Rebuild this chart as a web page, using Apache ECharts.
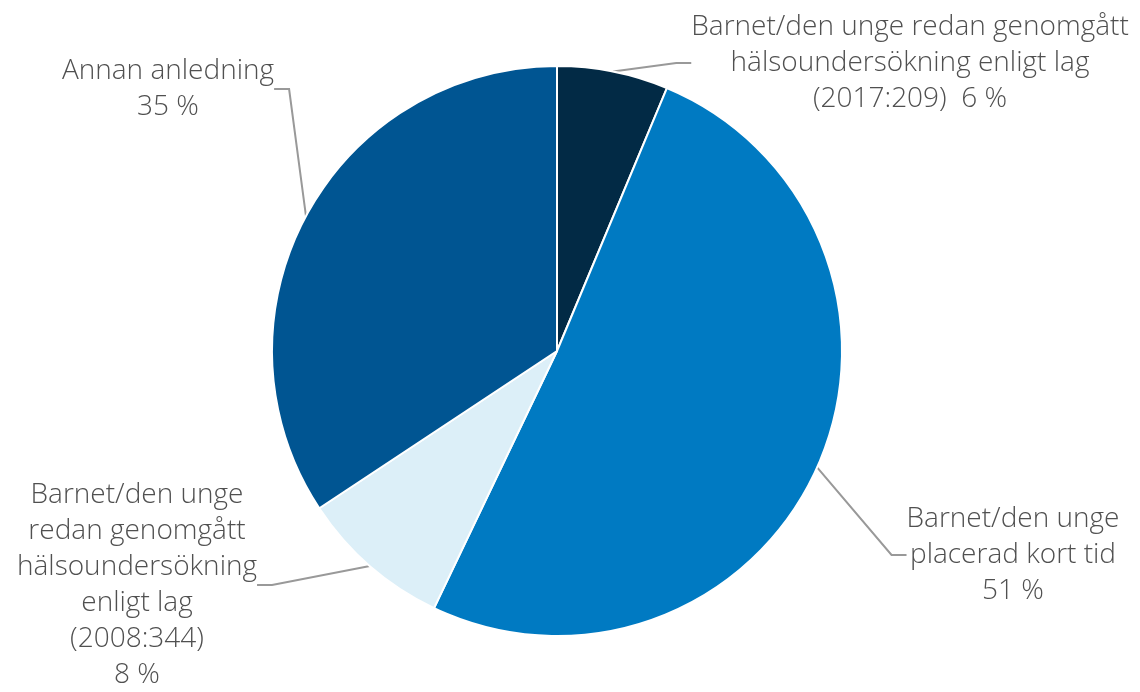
<!DOCTYPE html>
<html><head><meta charset="utf-8">
<script src="https://cdn.jsdelivr.net/npm/echarts@6/dist/echarts.min.js"></script>
<style>html,body{margin:0;padding:0;background:#fff}#c{width:1140px;height:692px}</style>
</head><body><div id="c"></div>
<script>
const categories = [
  "Barnet/den unge redan genomgått\nhälsoundersökning enligt lag\n(2017:209)",
  "Barnet/den unge\nplacerad kort tid",
  "Barnet/den unge\nredan genomgått\nhälsoundersökning\nenligt lag\n(2008:344)",
  "Annan anledning"
];
const values = [6.3, 50.8, 8.6, 34.3];
const percentLabels = ["6 %", "51 %", "8 %", "35 %"];
const labelSep = ["  ", "\n", "\n", "\n"];
const colors = ["#022a45", "#007ac2", "#dceff8", "#005592"];
// label centre positions (layout, not data)
const labelPos = [[910, 63], [1013, 555], [137, 585], [168, 89]];

const chart = echarts.init(document.getElementById('c'));
chart.setOption({
  animation: false,
  color: colors,
  series: [{
    type: 'pie',
    center: [557, 351],
    radius: [0, 285],
    startAngle: 90,
    clockwise: true,
    data: categories.map((c, i) => ({ name: c, value: values[i] })),
    itemStyle: { borderColor: '#fff', borderWidth: 2 },
    label: {
      show: true,
      formatter: p => categories[p.dataIndex] + labelSep[p.dataIndex] + percentLabels[p.dataIndex],
      fontFamily: 'Open Sans',
      fontWeight: 300,
      fontSize: 28,
      lineHeight: 36,
      color: '#505050',
      align: 'center'
    },
    labelLine: { show: true, lineStyle: { color: '#999', width: 2 }, length: 20, length2: 15, smooth: false },
    labelLayout: p => ({ x: labelPos[p.dataIndex][0], y: labelPos[p.dataIndex][1], align: 'center', verticalAlign: 'middle' })
  }]
});
</script></body></html>
